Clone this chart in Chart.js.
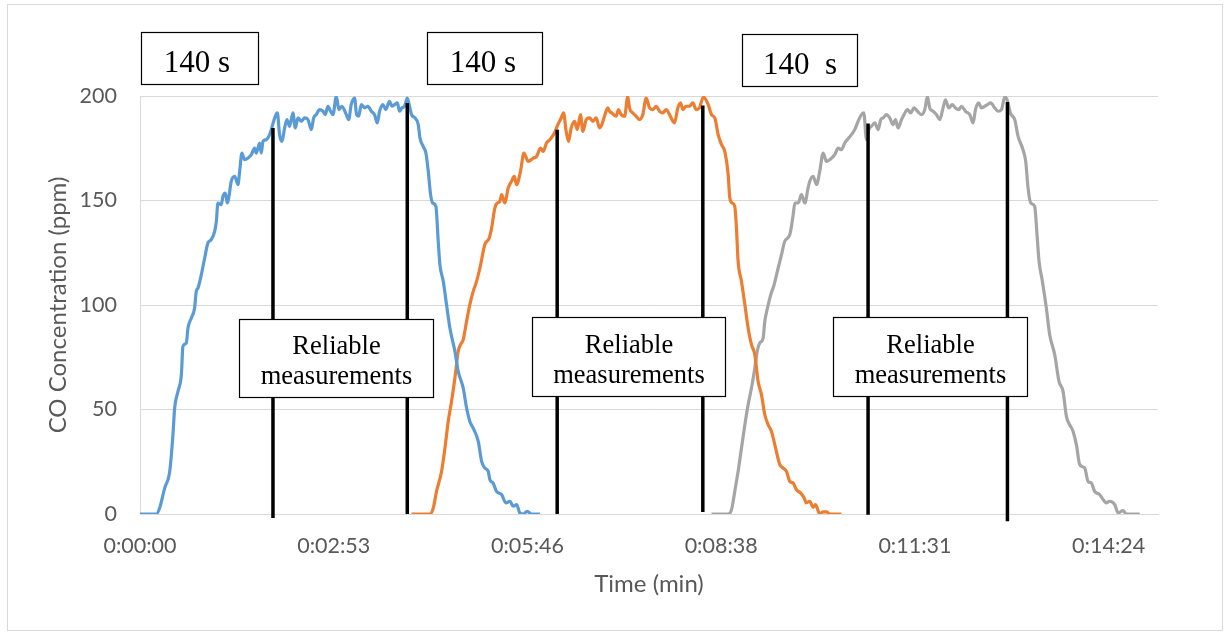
<!DOCTYPE html>
<html>
<head>
<meta charset="utf-8">
<script src="https://cdn.jsdelivr.net/npm/chart.js@4.4.1/dist/chart.umd.min.js"></script>
<style>
  html, body { margin: 0; padding: 0; background: #fff; }
  canvas { display: block; }
</style>
</head>
<body>
<canvas id="c" width="1225" height="632"></canvas>
<script>
// Time in seconds, CO concentration in ppm — run 1
const run1Times = [0,14.6,17.5,22.0,26.5,29.4,30.9,33.9,36.9,38.3,41.3,42.8,45.8,48.7,50.2,51.7,54.7,57.7,60.6,63.6,66.6,68.1,69.5,72.5,74.0,76.1,77.9,79.1,81.4,84.4,87.4,88.9,90.9,93.3,96.3,99.3,102.2,103.7,106.7,108.2,109.7,112.6,115.6,117.1,120.1,122.5,124.5,126.6,129.0,131.1,133.5,136.4,138.5,140.9,143.9,146.8,149.8,152.8,154.9,157.2,160.2,163.2,165.3,167.6,170.0,172.1,175.1,177.4,180.1,184.0,186.1,188.4,191.4,193.2,195.0,197.4,200.3,203.3,206.3,209.2,211.6,213.7,216.7,219.1,222.6,224.7,227.1,229.5,231.5,233.6,236.0,238.4,240.4,242.2,245.2,248.2,249.7,252.6,255.0,257.1,259.2,261.0,263.9,266.0,267.5,270.5,273.4,276.4,280.9,283.8,288.3,291.3,294.2,297.2,301.7,304.7,307.6,310.6,312.1,315.0,318.0,322.5,326.3,329.9,332.9,335.9,338.8,341.8,345.4,349.2,356.7];
const run1Ppm = [0,0,2.9,12.4,20.4,38.0,50.7,58.7,66.7,80.2,81.8,89.0,93.8,98.6,106.5,108.1,114.5,122.5,129.7,131.3,135.2,140.0,148.8,148.0,152.0,153.6,148.8,151.2,159.2,161.6,157.6,164.0,172.7,169.5,170.3,171.9,175.1,172.7,177.5,172.7,178.3,179.1,181.5,183.9,189.5,191.9,181.5,178.3,184.7,188.7,185.5,191.9,184.7,189.5,187.9,189.5,188.7,183.9,189.5,191.1,193.5,192.7,191.1,195.1,192.7,191.1,199.8,193.5,195.1,191.1,188.7,195.9,199.0,191.1,190.3,195.9,194.3,195.1,192.7,191.1,187.1,192.7,195.9,193.5,197.4,195.1,195.9,196.7,192.7,194.3,195.1,199.0,195.0,191.1,189.5,186.3,179.9,175.9,172.7,164.0,152.8,148.8,147.2,130.5,119.3,111.3,100.2,89.0,77.8,68.3,60.3,50.7,44.3,41.1,34.8,25.2,22.0,20.4,16.4,14.8,10.8,9.3,5.3,6.1,3.7,4.5,0.5,0,1.3,0,0];

// Run 2
const run2Times = [242.2,258.6,261.6,264.5,269.0,272.0,274.9,277.9,280.9,283.8,285.9,288.3,291.3,294.2,297.2,300.2,303.2,307.6,311.5,313.6,316.5,318.6,321.0,322.5,325.5,328.4,331.4,333.8,335.9,339.4,342.4,346.3,350.7,353.7,357.3,359.6,362.6,365.6,369.7,372.7,375.7,377.8,380.1,382.2,384.6,387.6,390.0,392.9,395.0,398.0,401.0,403.9,406.9,409.9,411.9,414.3,417.3,418.8,420.9,424.7,426.8,429.2,432.2,435.1,436.6,439.6,442.6,445.5,448.5,451.5,454.5,457.4,460.4,463.4,466.3,469.3,472.3,475.3,476.7,479.7,482.1,484.2,487.1,490.1,493.1,496.1,499.0,502.5,506.8,509.7,512.7,515.7,518.7,521.6,524.6,526.1,528.2,530.5,532.0,533.5,536.5,539.5,542.4,545.4,548.4,551.3,554.3,557.3,560.3,563.2,566.2,570.7,573.6,576.6,579.6,582.6,585.5,589.4,592.4,594.4,597.4,600.4,602.5,606.3,609.3,612.3,615.2,625.6];
const run2Ppm = [0,0,2.9,10.8,20.4,31.6,44.3,53.9,65.1,77.8,81.0,83.4,92.2,100.2,106.5,111.3,117.7,128.9,132.1,136.8,146.4,148.8,149.6,152.8,148.8,156.0,159.2,161.6,157.6,164.0,172.7,168.7,170.3,171.1,175.1,173.5,177.5,179.1,182.3,186.3,189.5,191.9,183.1,178.3,184.7,187.9,183.9,191.1,183.1,188.7,189.5,187.9,189.5,184.7,186.3,190.3,194.3,192.7,191.9,190.3,193.5,191.1,190.3,199.8,194.3,191.9,190.3,188.7,191.1,199.0,194.3,193.5,195.1,192.7,191.9,193.5,191.1,187.9,187.1,194.3,196.7,193.5,195.1,195.1,196.7,193.5,194.3,199.5,195.9,191.1,189.5,181.5,176.7,173.5,162.4,151.2,148.8,147.2,136.8,120.9,111.3,100.2,89.0,81.0,76.2,63.5,57.1,47.5,42.7,39.6,33.2,23.6,22.0,20.4,15.6,14.8,11.6,10.0,7.7,5.3,6.1,3.2,4.5,0,1.0,1.0,0,0];

// Run 3
const run3Times = [509.7,524.6,527.6,530.5,533.5,536.5,539.5,542.4,545.4,548.4,550.8,552.8,555.8,557.3,559.7,562.6,565.6,569.2,572.2,575.1,579.6,582.6,584.1,587.0,590.0,593.0,595.9,597.4,600.4,603.4,606.3,609.3,612.3,615.2,619.7,622.7,625.6,628.6,634.6,637.5,640.5,643.5,645.6,648.0,650.0,652.4,655.4,658.4,660.7,662.8,665.8,668.7,671.7,673.8,676.2,679.2,681.5,684.5,687.5,690.4,693.4,697.0,700.0,702.3,704.4,707.4,710.4,713.3,716.3,718.4,721.4,724.4,727.3,730.3,732.7,736.3,740.1,743.1,745.2,748.1,750.5,753.5,755.9,758.8,762.4,765.4,768.4,771.3,773.4,776.3,780.2,783.2,787.6,790.0,792.1,794.5,798.0,800.1,801.9,804.9,808.4,811.4,815.9,819.7,823.3,826.3,829.2,832.2,835.2,838.2,842.6,845.6,848.6,851.5,856.0,859.0,862.0,864.9,869.4,872.4,876.8,879.8,891.7];
const run3Ppm = [0,0,2.1,10.8,20.4,31.6,42.7,52.3,60.3,69.9,78.6,81.8,84.2,92.2,98.6,104.9,109.7,117.7,124.1,130.5,133.7,143.2,148.8,148.8,152.8,148.8,156.0,159.2,161.6,157.6,164.0,172.7,168.7,169.5,171.9,175.1,174.3,177.5,181.5,183.9,187.9,191.1,191.9,179.1,183.9,185.5,187.1,183.9,188.7,189.5,191.1,189.5,186.3,188.7,184.7,188.7,191.1,193.5,191.9,194.3,192.7,191.1,193.5,199.8,194.3,192.7,191.1,188.7,194.3,198.2,194.3,195.9,194.3,193.5,195.1,192.7,191.1,187.1,193.5,196.7,194.3,195.1,195.9,196.7,194.3,192.7,193.5,199.5,198.2,191.9,188.7,180.7,174.3,168.7,156.0,148.8,147.2,133.7,120.9,111.3,98.6,85.8,76.2,63.5,58.7,46.7,42.7,39.6,33.2,23.6,22.0,15.6,14.8,10.8,9.3,6.9,5.3,6.1,4.5,0.5,1.6,0,0];

// Start / end of the reliable window for each run (s), with the extent of each marker (ppm)
const markerTimes   = [118.6, 238.4, 372.1, 502.0, 649.4, 773.7];
const markerTops    = [184.7, 196.7, 183.9, 195.5, 186.8, 197.1];
const markerBottoms = [-1.9, 0, 0, 1.0, -0.3, -3.5];

// Axis ticks
const xTickSeconds = [0, 172.8, 345.6, 518.4, 691.2, 864];
const xTickLabels  = ['0:00:00', '0:02:53', '0:05:46', '0:08:38', '0:11:31', '0:14:24'];
const yTickValues  = [0, 50, 100, 150, 200];

// Text boxes, placed in axis units
const windowNotes = [
  { t0: 0.6,   t1: 104.9, v0: 205.7, v1: 230.6, lines: ['140 s'],  size: 31,   dx: -3, base: [39.7] },
  { t0: 255.6, t1: 358.7, v0: 205.7, v1: 230.6, lines: ['140 s'],  size: 31,   dx: -2, base: [39.7] },
  { t0: 536.8, t1: 639.6, v0: 204.8, v1: 229.7, lines: ['140  s'], size: 31,   dx: 0,  base: [39.7] },
  { t0: 88.3,  t1: 261.3, v0: 55.9,  v1: 93.2,  lines: ['Reliable', 'measurements'], size: 26.5, dx: 0, base: [34.2, 64.5] },
  { t0: 349.3, t1: 522.2, v0: 56.5,  v1: 94.2,  lines: ['Reliable', 'measurements'], size: 26.5, dx: 0, base: [35.7, 65.0] },
  { t0: 617.9, t1: 791.5, v0: 56.5,  v1: 94.2,  lines: ['Reliable', 'measurements'], size: 26.5, dx: 0, base: [35.7, 65.0] }
];

const toPoints = (ts, vs) => ts.map((t, i) => ({ x: t, y: vs[i] }));

const decorations = {
  id: 'decorations',
  beforeDraw(chart) {
    const ctx = chart.ctx;
    ctx.save();
    ctx.fillStyle = '#ffffff';
    ctx.fillRect(0, 0, chart.width, chart.height);
    ctx.strokeStyle = '#D9D9D9';
    ctx.lineWidth = 1;
    ctx.strokeRect(7.5, 4.5, 1215, 626);
    ctx.restore();
  },
  afterDatasetsDraw(chart) {
    const { ctx, scales: { x, y } } = chart;
    ctx.save();
    ctx.strokeStyle = '#000000';
    ctx.lineWidth = 3.5;
    ctx.lineCap = 'butt';
    markerTimes.forEach((t, i) => {
      const px = x.getPixelForValue(t);
      ctx.beginPath();
      ctx.moveTo(px, y.getPixelForValue(markerTops[i]));
      ctx.lineTo(px, y.getPixelForValue(markerBottoms[i]));
      ctx.stroke();
    });
    windowNotes.forEach(n => {
      const l = Math.round(x.getPixelForValue(n.t0)) + 0.5;
      const r = Math.round(x.getPixelForValue(n.t1)) + 0.5;
      const top = Math.round(y.getPixelForValue(n.v1)) + 0.5;
      const bot = Math.round(y.getPixelForValue(n.v0)) + 0.5;
      ctx.fillStyle = '#ffffff';
      ctx.fillRect(l, top, r - l, bot - top);
      ctx.strokeStyle = '#000000';
      ctx.lineWidth = 1.2;
      ctx.strokeRect(l, top, r - l, bot - top);
      ctx.fillStyle = '#000000';
      ctx.font = n.size + 'px "Liberation Serif", "Times New Roman", serif';
      ctx.textAlign = 'center';
      ctx.textBaseline = 'alphabetic';
      n.lines.forEach((s, k) => ctx.fillText(s, (l + r) / 2 + n.dx, top + n.base[k]));
    });
    ctx.restore();
  }
};

Chart.defaults.font.family = 'Lato, "Open Sans", sans-serif';
Chart.defaults.color = '#595959';

const lineStyle = { borderWidth: 3.2, pointRadius: 0, pointHoverRadius: 0, cubicInterpolationMode: 'monotone', fill: false };

new Chart(document.getElementById('c'), {
  type: 'line',
  data: {
    datasets: [
      Object.assign({ label: 'Run 1', data: toPoints(run1Times, run1Ppm), borderColor: '#5B9BD5' }, lineStyle),
      Object.assign({ label: 'Run 2', data: toPoints(run2Times, run2Ppm), borderColor: '#ED7D31' }, lineStyle),
      Object.assign({ label: 'Run 3', data: toPoints(run3Times, run3Ppm), borderColor: '#A5A5A5' }, lineStyle)
    ]
  },
  options: {
    responsive: false,
    animation: false,
    devicePixelRatio: 1,
    layout: { padding: { top: 96, right: 67, left: 0, bottom: 0 } },
    plugins: { legend: { display: false }, tooltip: { enabled: false } },
    scales: {
      x: {
        type: 'linear',
        min: 0,
        max: 908,
        afterFit(s) { s.height = 118; },
        afterBuildTicks(s) { s.ticks = xTickSeconds.map(v => ({ value: v })); },
        grid: { display: false },
        border: { display: true, color: '#D9D9D9', width: 1 },
        ticks: {
          padding: 11,
          maxRotation: 0,
          autoSkip: false,
          font: { size: 21.5 },
          callback: (v, i) => xTickLabels[i]
        },
        title: { display: true, text: 'Time (min)', font: { size: 24 }, padding: { top: 0, bottom: 33 } }
      },
      y: {
        min: 0,
        max: 200,
        afterFit(s) { s.width = 140; },
        afterBuildTicks(s) { s.ticks = yTickValues.map(v => ({ value: v })); },
        grid: { color: '#D9D9D9', lineWidth: 1, drawTicks: false },
        border: { display: true, color: '#D9D9D9', width: 1 },
        ticks: { padding: 23, font: { size: 21.5 } },
        title: { display: true, text: 'CO Concentration (ppm)', font: { size: 24 }, padding: { top: 44, bottom: 0 } }
      }
    }
  },
  plugins: [decorations]
});
</script>
</body>
</html>
